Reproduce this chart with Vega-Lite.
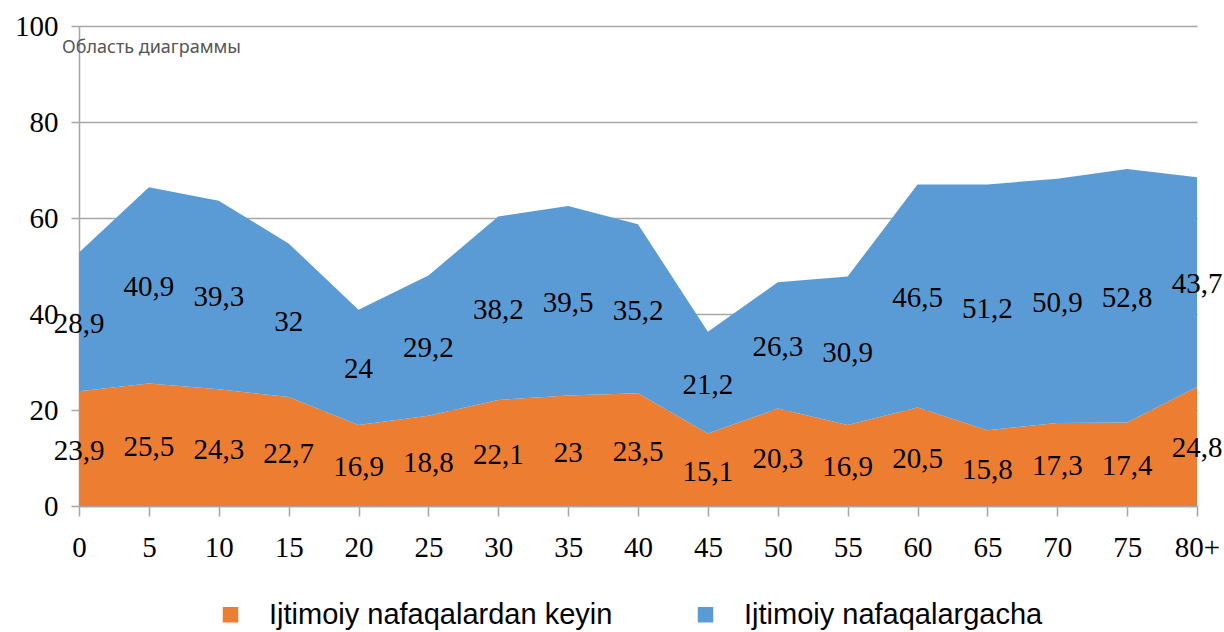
{
  "$schema": "https://vega.github.io/schema/vega-lite/v6.json",
  "width": 1118,
  "height": 480,
  "autosize": {"type": "none"},
  "padding": {"left": 79, "top": 26, "right": 27, "bottom": 126},
  "background": "white",
  "config": {"view": {"stroke": null}},
  "datasets": {
    "d": [
      {"age": "0", "series": "Ijtimoiy nafaqalardan keyin", "ord": 1, "v": 23.9},
      {"age": "5", "series": "Ijtimoiy nafaqalardan keyin", "ord": 1, "v": 25.5},
      {"age": "10", "series": "Ijtimoiy nafaqalardan keyin", "ord": 1, "v": 24.3},
      {"age": "15", "series": "Ijtimoiy nafaqalardan keyin", "ord": 1, "v": 22.7},
      {"age": "20", "series": "Ijtimoiy nafaqalardan keyin", "ord": 1, "v": 16.9},
      {"age": "25", "series": "Ijtimoiy nafaqalardan keyin", "ord": 1, "v": 18.8},
      {"age": "30", "series": "Ijtimoiy nafaqalardan keyin", "ord": 1, "v": 22.1},
      {"age": "35", "series": "Ijtimoiy nafaqalardan keyin", "ord": 1, "v": 23},
      {"age": "40", "series": "Ijtimoiy nafaqalardan keyin", "ord": 1, "v": 23.5},
      {"age": "45", "series": "Ijtimoiy nafaqalardan keyin", "ord": 1, "v": 15.1},
      {"age": "50", "series": "Ijtimoiy nafaqalardan keyin", "ord": 1, "v": 20.3},
      {"age": "55", "series": "Ijtimoiy nafaqalardan keyin", "ord": 1, "v": 16.9},
      {"age": "60", "series": "Ijtimoiy nafaqalardan keyin", "ord": 1, "v": 20.5},
      {"age": "65", "series": "Ijtimoiy nafaqalardan keyin", "ord": 1, "v": 15.8},
      {"age": "70", "series": "Ijtimoiy nafaqalardan keyin", "ord": 1, "v": 17.3},
      {"age": "75", "series": "Ijtimoiy nafaqalardan keyin", "ord": 1, "v": 17.4},
      {"age": "80+", "series": "Ijtimoiy nafaqalardan keyin", "ord": 1, "v": 24.8},
      {"age": "0", "series": "Ijtimoiy nafaqalargacha", "ord": 2, "v": 28.9},
      {"age": "5", "series": "Ijtimoiy nafaqalargacha", "ord": 2, "v": 40.9},
      {"age": "10", "series": "Ijtimoiy nafaqalargacha", "ord": 2, "v": 39.3},
      {"age": "15", "series": "Ijtimoiy nafaqalargacha", "ord": 2, "v": 32},
      {"age": "20", "series": "Ijtimoiy nafaqalargacha", "ord": 2, "v": 24},
      {"age": "25", "series": "Ijtimoiy nafaqalargacha", "ord": 2, "v": 29.2},
      {"age": "30", "series": "Ijtimoiy nafaqalargacha", "ord": 2, "v": 38.2},
      {"age": "35", "series": "Ijtimoiy nafaqalargacha", "ord": 2, "v": 39.5},
      {"age": "40", "series": "Ijtimoiy nafaqalargacha", "ord": 2, "v": 35.2},
      {"age": "45", "series": "Ijtimoiy nafaqalargacha", "ord": 2, "v": 21.2},
      {"age": "50", "series": "Ijtimoiy nafaqalargacha", "ord": 2, "v": 26.3},
      {"age": "55", "series": "Ijtimoiy nafaqalargacha", "ord": 2, "v": 30.9},
      {"age": "60", "series": "Ijtimoiy nafaqalargacha", "ord": 2, "v": 46.5},
      {"age": "65", "series": "Ijtimoiy nafaqalargacha", "ord": 2, "v": 51.2},
      {"age": "70", "series": "Ijtimoiy nafaqalargacha", "ord": 2, "v": 50.9},
      {"age": "75", "series": "Ijtimoiy nafaqalargacha", "ord": 2, "v": 52.8},
      {"age": "80+", "series": "Ijtimoiy nafaqalargacha", "ord": 2, "v": 43.7}
    ],
    "note": [
      {"age": "0", "y": 95.5, "t": "Область диаграммы"}
    ]
  },
  "layer": [
    {
      "data": {"name": "d"},
      "transform": [
        {"stack": "v", "groupby": ["age"], "sort": [{"field": "ord", "order": "ascending"}], "as": ["y0", "y1"]}
      ],
      "mark": {"type": "area", "opacity": 1},
      "encoding": {
        "x": {
          "field": "age", "type": "ordinal",
          "sort": ["0","5","10","15","20","25","30","35","40","45","50","55","60","65","70","75","80+"],
          "scale": {"type": "point", "padding": 0, "domain": ["0","5","10","15","20","25","30","35","40","45","50","55","60","65","70","75","80+"]},
          "axis": {
            "title": null, "labelAngle": 0, "labelFont": "Liberation Serif", "labelFontSize": 29,
            "labelColor": "black", "tickSize": 10, "tickColor": "#a6a6a6", "tickWidth": 1.5,
            "domainColor": "#a6a6a6", "domainWidth": 1.5, "labelPadding": 17, "grid": false
          }
        },
        "y": {
          "field": "y1", "type": "quantitative",
          "scale": {"domain": [0, 100], "nice": false},
          "axis": {
            "title": null, "values": [0, 20, 40, 60, 80, 100], "grid": true,
            "gridColor": "#a6a6a6", "gridWidth": 1.5, "domainColor": "#a6a6a6", "domainWidth": 1.5,
            "tickColor": "#a6a6a6", "tickSize": 8, "tickWidth": 1.5,
            "labelFont": "Liberation Serif", "labelFontSize": 29, "labelColor": "black",
            "labelPadding": 13, "labelFlush": false, "labelOverlap": false
          }
        },
        "y2": {"field": "y0"},
        "color": {
          "field": "series", "type": "nominal",
          "scale": {"domain": ["Ijtimoiy nafaqalardan keyin", "Ijtimoiy nafaqalargacha"], "range": ["#ED7D31", "#5B9BD5"]},
          "legend": {
            "orient": "none", "legendX": 137, "legendY": 574, "direction": "horizontal", "title": null,
            "symbolType": "square", "symbolSize": 240, "symbolStrokeWidth": 0, "symbolOpacity": 1,
            "labelFont": "Liberation Sans", "labelFontSize": 29, "labelColor": "black",
            "labelOffset": 24, "columnPadding": 78, "labelLimit": 600
          }
        }
      }
    },
    {
      "data": {"name": "d"},
      "transform": [
        {"stack": "v", "groupby": ["age"], "sort": [{"field": "ord", "order": "ascending"}], "as": ["y0", "y1"]},
        {"calculate": "(datum.y0 + datum.y1) / 2", "as": "mid"},
        {"calculate": "replace(toString(datum.v), '.', ',')", "as": "lab"}
      ],
      "mark": {"type": "text", "font": "Liberation Serif", "fontSize": 29, "color": "black", "dy": 2},
      "encoding": {
        "x": {"field": "age", "type": "ordinal", "sort": ["0","5","10","15","20","25","30","35","40","45","50","55","60","65","70","75","80+"]},
        "y": {"field": "mid", "type": "quantitative"},
        "text": {"field": "lab"}
      }
    },
    {
      "data": {"name": "note"},
      "mark": {"type": "text", "font": "Noto Sans", "fontSize": 18, "color": "#555555", "align": "left", "dx": -17},
      "encoding": {
        "x": {"field": "age", "type": "ordinal", "sort": ["0","5","10","15","20","25","30","35","40","45","50","55","60","65","70","75","80+"]},
        "y": {"field": "y", "type": "quantitative"},
        "text": {"field": "t"}
      }
    }
  ]
}
